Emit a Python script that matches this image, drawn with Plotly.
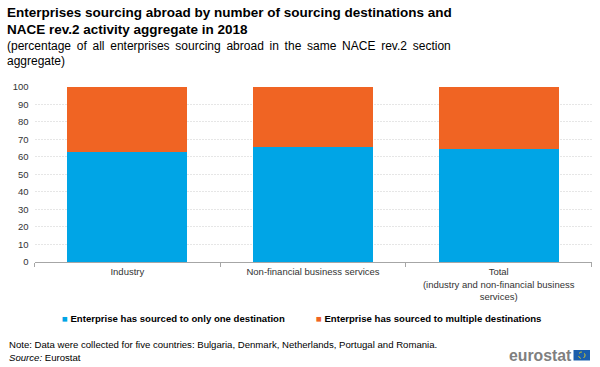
import plotly.graph_objects as go

categories = ["Industry", "Non-financial business services",
              "Total<br>(industry and non-financial business<br>services)"]
one_destination = [62.9, 65.6, 64.4]
multiple_destinations = [37.1, 34.4, 35.6]
series_names = ["Enterprise has sourced to only one destination",
                "Enterprise has sourced to multiple destinations"]
BLUE = "#00A5E6"
ORANGE = "#F06423"

W, H = 600, 367
FONT = "Liberation Sans, Arial, sans-serif"

fig = go.Figure()
fig.add_bar(x=categories, y=one_destination, name=series_names[0],
            marker=dict(color=BLUE, line=dict(width=0)))
fig.add_bar(x=categories, y=multiple_destinations, name=series_names[1],
            marker=dict(color=ORANGE, line=dict(width=0)))


def px(x):
    return x / W


def py(y):
    return 1 - y / H


def note(text, x, y, size, color="#000000", anchor="left"):
    return dict(text=text, x=px(x), y=py(y), xref="paper", yref="paper",
                xanchor=anchor, yanchor="middle", showarrow=False,
                align="left", xshift=0,
                font=dict(family=FONT, size=size, color=color))


annotations = [
    note("<b>Enterprises sourcing abroad by number of sourcing destinations and</b>", 5, 13, 13.5),
    note("<b>NACE rev.2 activity aggregate in 2018</b>", 5, 29.5, 13.5),
    note("<span style='word-spacing:2.4px'>(percentage of all enterprises sourcing abroad in the same NACE rev.2 section</span>", 5, 45.5, 12),
    note("aggregate)", 5, 61.5, 12),
    note(f"<span style='color:{BLUE}'>■</span> <b>{series_names[0]}</b>", 59.5, 318.5, 9.6),
    note(f"<span style='color:{ORANGE}'>■</span> <b>{series_names[1]}</b>", 313.5, 318.5, 9.6),
    note("Note: Data were collected for five countries: Bulgaria, Denmark, Netherlands, Portugal and Romania.", 7, 344, 9.6),
    note("<i>Source:</i> Eurostat", 7, 357.5, 9.6),
    note("<b>eurostat</b>", 507, 355.5, 15.8, color="#7F7F7F"),
]

fig.update_layout(
    width=W, height=H, margin=dict(l=0, r=0, t=0, b=0),
    paper_bgcolor="white", plot_bgcolor="white",
    barmode="stack", bargap=0.355, showlegend=False,
    font=dict(family=FONT, size=9.5, color="#333333"),
    annotations=annotations,
    shapes=[
        dict(type="rect", xref="paper", yref="paper", x0=px(573.5), x1=px(590),
             y0=py(360.5), y1=py(350), fillcolor="#1A5EAB", line=dict(width=0)),
        dict(type="circle", xref="paper", yref="paper", x0=px(578.5), x1=px(585),
             y0=py(358.5), y1=py(352), fillcolor="rgba(0,0,0,0)",
             line=dict(width=1, color="#E6D21E", dash="dot")),
    ],
    xaxis=dict(domain=[px(34.5), px(591.5)], showline=True, linecolor="#A6A6A6", linewidth=1,
               ticks="outside", tickson="boundaries", tickcolor="#A6A6A6", ticklen=4,
               ticklabelstandoff=1,
               tickfont=dict(size=9.5, color="#333333"), automargin=False),
    yaxis=dict(domain=[py(262), py(86.7)], range=[0, 100], dtick=10, showline=False,
               gridcolor="#E6E6E6", griddash="2px,1px", gridwidth=1, zeroline=False, ticks="",
               ticklabelstandoff=5,
               tickfont=dict(size=9.5, color="#333333"), automargin=False),
)

fig.write_html("out.html", config=dict(displayModeBar=False),
               post_script="document.body.style.margin='0';window.dispatchEvent(new Event('resize'));")
